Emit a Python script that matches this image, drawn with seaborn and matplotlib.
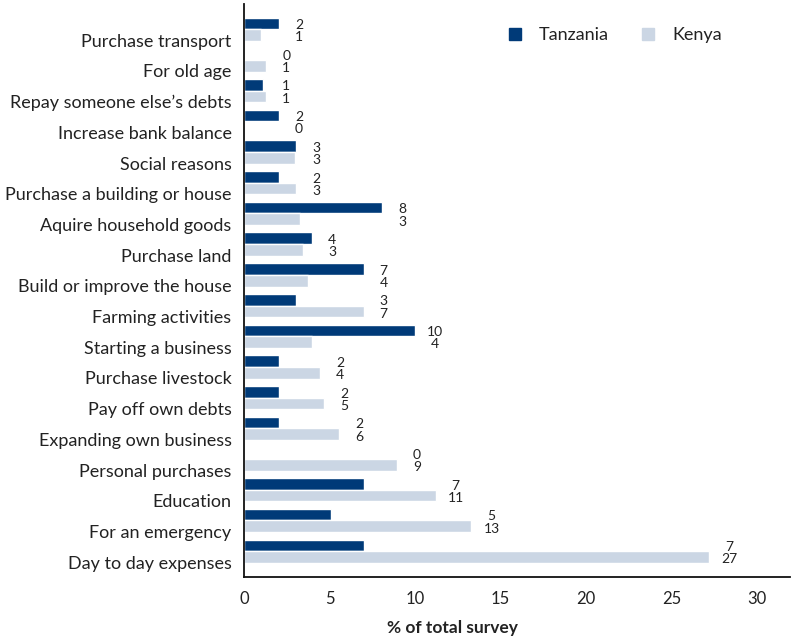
import matplotlib
matplotlib.use("Agg")
import matplotlib.pyplot as plt
import matplotlib.transforms as mtransforms
from matplotlib.lines import Line2D
import seaborn as sns
import pandas as pd

reasons = [
    "Purchase transport", "For old age", "Repay someone else\u2019s debts",
    "Increase bank balance", "Social reasons", "Purchase a building or house",
    "Aquire household goods", "Purchase land", "Build or improve the house",
    "Farming activities", "Starting a business", "Purchase livestock",
    "Pay off own debts", "Expanding own business", "Personal purchases",
    "Education", "For an emergency", "Day to day expenses",
]
tanzania = [2.05, 0.0, 1.1, 2.05, 3.04, 2.05, 8.07, 3.98, 7.0, 3.04,
            10.0, 2.05, 2.05, 2.05, 0.0, 7.0, 5.1, 7.0]
kenya = [1.0, 1.3, 1.3, 0.0, 2.98, 3.04, 3.27, 3.45, 3.74, 7.0,
         3.98, 4.45, 4.68, 5.56, 8.95, 11.2, 13.3, 27.2]
countries = ["Tanzania", "Kenya"]
colors = ["#003a78", "#cbd6e4"]
xticks = [0, 5, 10, 15, 20, 25, 30]

df = pd.DataFrame({
    "reason": reasons * 2,
    "value": tanzania + kenya,
    "country": [countries[0]] * len(reasons) + [countries[1]] * len(reasons),
})

sns.set_style("white")
plt.rcParams["font.family"] = ["Lato", "DejaVu Sans"]
text_color = "#222222"

W, H = 797, 637
fig = plt.figure(figsize=(W / 100, H / 100), dpi=100)
ax = fig.add_axes([244 / W, 1 - 577 / H, (790 - 244) / W, (577 - 4) / H])

sns.barplot(data=df, y="reason", x="value", hue="country", order=reasons,
            hue_order=countries, palette=colors, width=0.76, orient="h",
            saturation=1, ax=ax, legend=False, errorbar=None)

ax.set_xlim(0, (790 - 244) / 17.1)
ax.set_ylim(len(reasons) - 1 + 0.84, -0.82)
ax.set_xticks(xticks)
ax.set_xticklabels([str(t) for t in xticks], fontsize=12, color=text_color)
ax.tick_params(axis="both", length=0)
ax.tick_params(axis="x", pad=10)
ax.tick_params(axis="y", pad=9, labelsize=13, labelcolor=text_color)
ax.set_ylabel("")
ax.set_xlabel("% of total survey", fontsize=12.5, fontweight="bold",
              color=text_color)
ax.xaxis.set_label_coords((452 - 244) / (790 - 244), -0.075)

# shift category labels a bit downward like the reference
offset = mtransforms.ScaledTranslation(0, -11 / 100, fig.dpi_scale_trans)
for lab in ax.get_yticklabels():
    lab.set_transform(lab.get_transform() + offset)

for side in ["top", "right"]:
    ax.spines[side].set_visible(False)
for side in ["left", "bottom"]:
    ax.spines[side].set_color("#111111")
    ax.spines[side].set_linewidth(1.3)

# value labels
for i, (t, k) in enumerate(zip(tanzania, kenya)):
    m = max(t, k)
    for val, dy in ((t, -0.2), (k, 0.2)):
        ax.annotate(f"{val:.0f}", xy=(m, i + dy), xytext=(20, -2),
                    textcoords="offset pixels", ha="center", va="center",
                    fontsize=10, color=text_color)

handles = [Line2D([], [], marker="s", linestyle="none", markersize=9,
                  markerfacecolor=c, markeredgecolor=c) for c in colors]
fig.legend(handles, countries, loc="center left",
           bbox_to_anchor=(506 / W, 1 - 35 / H), ncol=2, frameon=False,
           fontsize=13, handlelength=1.0, handletextpad=0.83,
           columnspacing=1.67, borderpad=0, borderaxespad=0,
           labelcolor=text_color)

fig.savefig("out.png", dpi=100)
